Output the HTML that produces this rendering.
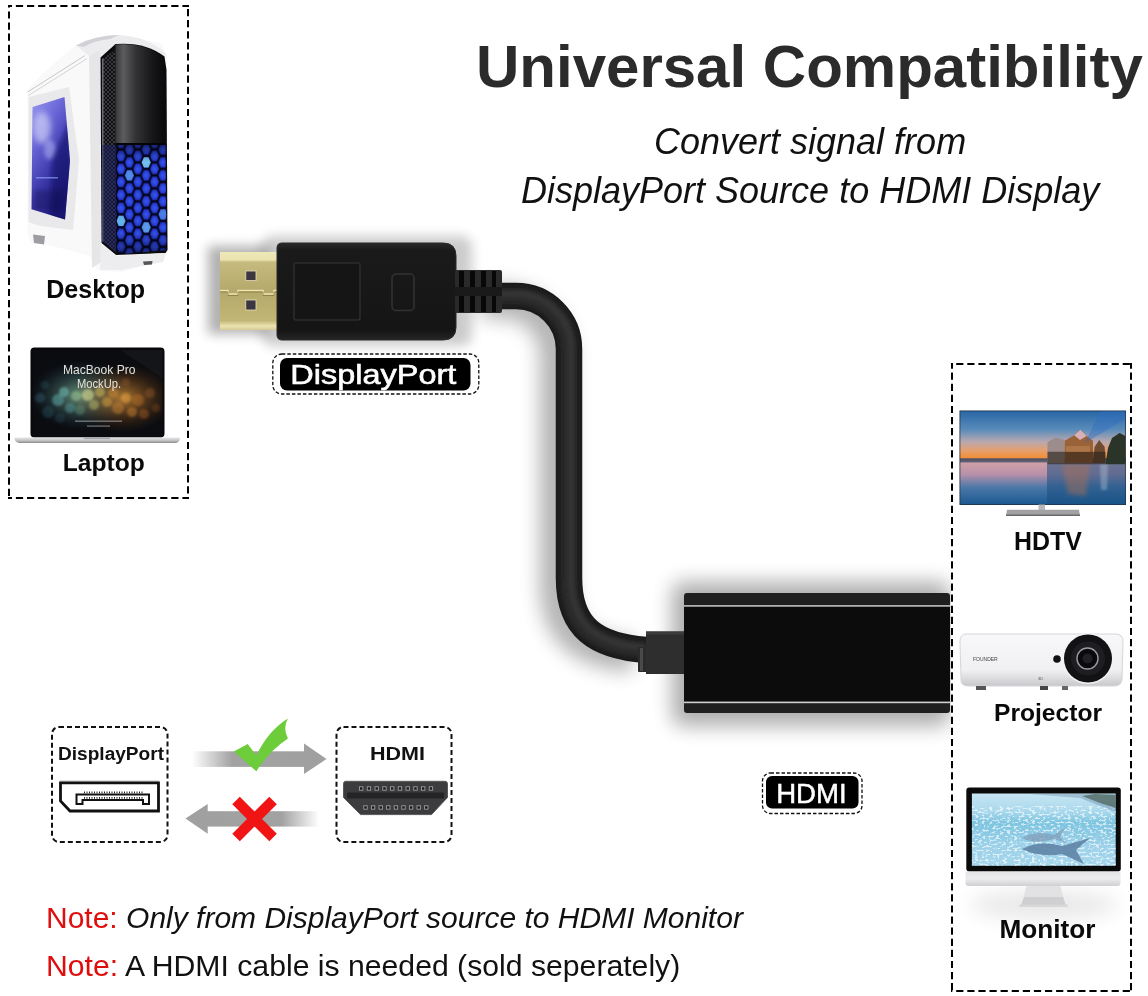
<!DOCTYPE html>
<html><head><meta charset="utf-8">
<style>
html,body{margin:0;padding:0;background:#fff;width:1148px;height:996px;overflow:hidden}
svg{display:block;position:absolute;left:0;top:0;will-change:transform}
text{font-family:"Liberation Sans",sans-serif}
</style></head>
<body>
<svg width="1148" height="996" viewBox="0 0 1148 996">
<defs>
  <filter id="blur6" x="-50%" y="-50%" width="200%" height="200%"><feGaussianBlur stdDeviation="6"/></filter>
  <filter id="blur10" x="-50%" y="-50%" width="200%" height="200%"><feGaussianBlur stdDeviation="10"/></filter>
  <filter id="blur12" x="-50%" y="-50%" width="200%" height="200%"><feGaussianBlur stdDeviation="12"/></filter>
  <filter id="blur3" x="-50%" y="-50%" width="200%" height="200%"><feGaussianBlur stdDeviation="3"/></filter>
  <filter id="blur2" x="-50%" y="-50%" width="200%" height="200%"><feGaussianBlur stdDeviation="2"/></filter>
  <filter id="blur1" x="-50%" y="-50%" width="200%" height="200%"><feGaussianBlur stdDeviation="1"/></filter>
  <linearGradient id="gold" x1="0" y1="0" x2="0" y2="1">
    <stop offset="0" stop-color="#efe8b8"/>
    <stop offset="0.1" stop-color="#ebe3ae"/>
    <stop offset="0.13" stop-color="#c6bb7e"/>
    <stop offset="0.5" stop-color="#b4a96a"/>
    <stop offset="0.88" stop-color="#c2b676"/>
    <stop offset="0.95" stop-color="#ece4b2"/>
    <stop offset="1" stop-color="#d4ca92"/>
  </linearGradient>
  <linearGradient id="dpbody" x1="0" y1="0" x2="0" y2="1">
    <stop offset="0" stop-color="#2a2a2a"/>
    <stop offset="0.08" stop-color="#1a1a1a"/>
    <stop offset="0.9" stop-color="#151515"/>
    <stop offset="1" stop-color="#262626"/>
  </linearGradient>
  <linearGradient id="arrR" x1="192" y1="0" x2="326" y2="0" gradientUnits="userSpaceOnUse">
    <stop offset="0" stop-color="#a2a2a2" stop-opacity="0"/>
    <stop offset="0.3" stop-color="#a2a2a2" stop-opacity="1"/>
    <stop offset="1" stop-color="#a0a0a0"/>
  </linearGradient>
  <linearGradient id="arrL" x1="185" y1="0" x2="319" y2="0" gradientUnits="userSpaceOnUse">
    <stop offset="0" stop-color="#a0a0a0"/>
    <stop offset="0.72" stop-color="#a2a2a2" stop-opacity="1"/>
    <stop offset="1" stop-color="#a2a2a2" stop-opacity="0"/>
  </linearGradient>
  <linearGradient id="caseWhite" x1="0" y1="0" x2="1" y2="0">
    <stop offset="0" stop-color="#e6e6e8"/>
    <stop offset="0.5" stop-color="#fbfbfb"/>
    <stop offset="1" stop-color="#e2e2e4"/>
  </linearGradient>
  <linearGradient id="gloss" x1="116" y1="0" x2="165" y2="0" gradientUnits="userSpaceOnUse">
    <stop offset="0" stop-color="#3a3a3c"/>
    <stop offset="0.15" stop-color="#5c5c5e"/>
    <stop offset="0.4" stop-color="#333335"/>
    <stop offset="0.75" stop-color="#161618"/>
    <stop offset="1" stop-color="#0a0a0b"/>
  </linearGradient>
  <pattern id="meshP" x="0" y="0" width="4" height="4" patternUnits="userSpaceOnUse">
    <rect width="4" height="4" fill="#101012"/>
    <path d="M0 0 L4 4 M4 0 L0 4" stroke="#4a4a50" stroke-width="0.7"/>
  </pattern>
  <linearGradient id="win" x1="0" y1="0" x2="0.5" y2="1">
    <stop offset="0" stop-color="#9a9cf0"/>
    <stop offset="0.35" stop-color="#6a66d8"/>
    <stop offset="0.7" stop-color="#3a36a8"/>
    <stop offset="1" stop-color="#242080"/>
  </linearGradient>
  <clipPath id="winclip"><path d="M32.5 107 L64.5 97 L70 160.7 L65 219.6 L31.5 209.3 Z"/></clipPath>
  <pattern id="hex" x="116.8" y="136.4" width="16.8" height="13" patternUnits="userSpaceOnUse">
    <rect width="16.8" height="13" fill="#03041a"/>
    <polygon points="-0.30,6.50 1.95,1.30 6.45,1.30 8.70,6.50 6.45,11.70 1.95,11.70" fill="url(#hexcell)"/>
    <polygon points="8.10,0.00 10.35,-5.20 14.85,-5.20 17.10,0.00 14.85,5.20 10.35,5.20" fill="url(#hexcell)"/>
    <polygon points="8.10,13.00 10.35,7.80 14.85,7.80 17.10,13.00 14.85,18.20 10.35,18.20" fill="url(#hexcell)"/>
  </pattern>
  <radialGradient id="hexcell" cx="0.5" cy="0.5" r="0.6">
    <stop offset="0" stop-color="#3a5cff"/>
    <stop offset="1" stop-color="#2030c8"/>
  </radialGradient>
  <linearGradient id="hexglow" x1="0" y1="0" x2="0" y2="1">
    <stop offset="0" stop-color="#000" stop-opacity="0.45"/>
    <stop offset="0.15" stop-color="#000" stop-opacity="0.05"/>
    <stop offset="0.8" stop-color="#000" stop-opacity="0.05"/>
    <stop offset="1" stop-color="#000" stop-opacity="0.45"/>
  </linearGradient>
  <linearGradient id="mesh" x1="0" y1="0" x2="1" y2="0">
    <stop offset="0" stop-color="#1c1c22"/>
    <stop offset="1" stop-color="#0c0c10"/>
  </linearGradient>
  <radialGradient id="bokehG" cx="0.38" cy="0.52" r="0.4">
    <stop offset="0" stop-color="#8ac0a0" stop-opacity="0.8"/>
    <stop offset="1" stop-color="#2a5060" stop-opacity="0"/>
  </radialGradient>
  <radialGradient id="bokehO" cx="0.7" cy="0.55" r="0.4">
    <stop offset="0" stop-color="#d89038" stop-opacity="0.8"/>
    <stop offset="1" stop-color="#603010" stop-opacity="0"/>
  </radialGradient>
  <linearGradient id="lapBase" x1="0" y1="0" x2="0" y2="1">
    <stop offset="0" stop-color="#e6e6e8"/>
    <stop offset="0.5" stop-color="#c8c8ca"/>
    <stop offset="1" stop-color="#8a8a8c"/>
  </linearGradient>
  <linearGradient id="tvsky" x1="0" y1="411" x2="0" y2="504" gradientUnits="userSpaceOnUse">
    <stop offset="0" stop-color="#2866a6"/>
    <stop offset="0.2" stop-color="#5a8cba"/>
    <stop offset="0.33" stop-color="#b8a8b0"/>
    <stop offset="0.42" stop-color="#e4a070"/>
    <stop offset="0.5" stop-color="#f0903a"/>
    <stop offset="0.515" stop-color="#505060"/>
    <stop offset="0.545" stop-color="#606078"/>
    <stop offset="0.56" stop-color="#d0a0a8"/>
    <stop offset="0.68" stop-color="#b890a8"/>
    <stop offset="0.82" stop-color="#4c78a8"/>
    <stop offset="1" stop-color="#1c5a92"/>
  </linearGradient>
  <linearGradient id="water" x1="0" y1="0" x2="0" y2="1">
    <stop offset="0" stop-color="#c8e6f2"/>
    <stop offset="0.25" stop-color="#a8d8ec"/>
    <stop offset="0.4" stop-color="#7cc4e0"/>
    <stop offset="0.7" stop-color="#9ad0e8"/>
    <stop offset="1" stop-color="#a6d6ec"/>
  </linearGradient>
  <linearGradient id="silver" x1="0" y1="0" x2="0" y2="1">
    <stop offset="0" stop-color="#e4e4e6"/>
    <stop offset="0.5" stop-color="#ececee"/>
    <stop offset="1" stop-color="#cfcfd2"/>
  </linearGradient>
  <linearGradient id="projBody" x1="0" y1="0" x2="0" y2="1">
    <stop offset="0" stop-color="#f8f8fa"/>
    <stop offset="0.7" stop-color="#f0f0f2"/>
    <stop offset="1" stop-color="#c8c8cc"/>
  </linearGradient>
  <linearGradient id="cableG" x1="0" y1="0" x2="1" y2="0">
    <stop offset="0" stop-color="#1c1c1c"/>
    <stop offset="0.5" stop-color="#353535"/>
    <stop offset="1" stop-color="#1a1a1a"/>
  </linearGradient>
  <filter id="caust" x="0" y="0" width="100%" height="100%">
    <feTurbulence type="fractalNoise" baseFrequency="0.28 0.5" numOctaves="2" seed="7" result="n"/>
    <feColorMatrix in="n" type="matrix" values="0 0 0 0 1  0 0 0 0 1  0 0 0 0 1  0 0 0 7 -3.6" result="m"/>
    <feComposite in="m" in2="SourceGraphic" operator="in"/>
  </filter>
  <clipPath id="shclip"><rect x="0" y="0" width="951" height="996"/></clipPath>
  <clipPath id="hexclip"><path d="M116.5 145 L165.5 145 L166.5 250 L120 254 L116.5 251 Z"/></clipPath>
</defs>
<rect width="1148" height="996" fill="#fff"/>
<!-- ============ LEFT BOX ============ -->
<g id="lbox"><line x1="8" y1="6" x2="189" y2="6" stroke="#000" stroke-width="2" stroke-dasharray="7.2 3.9" stroke-dashoffset="3.2"/><line x1="9" y1="5" x2="9" y2="499" stroke="#000" stroke-width="2" stroke-dasharray="7.2 3.9" stroke-dashoffset="4.7"/><line x1="188" y1="5" x2="188" y2="499" stroke="#000" stroke-width="2" stroke-dasharray="7.2 3.9" stroke-dashoffset="7.1"/><line x1="8" y1="498" x2="189" y2="498" stroke="#000" stroke-width="2" stroke-dasharray="7.2 3.9" stroke-dashoffset="3.2"/></g>

<!-- desktop case -->
<g id="case">
  <!-- whole white silhouette -->
  <path d="M27.5 90 Q45 70 76 45 Q110 33 161 43 L167 55 L168 252 L155 262 L122 272 L98 271 L90 256 L45 244 L30 243 L27.5 232 Z" fill="#f9f9fa"/>
  <!-- top cap -->
  <path d="M76 45.5 Q95 35 119 35 Q150 37 166 54 L163.7 57.7 Q145 42 115.5 44.5 L100.5 57 L89 56 Z" fill="#ececee"/>
  <path d="M76 45.5 Q95 35 119 35 L110 39 Q92 41 84 47 Z" fill="#d2d2d6"/>
  <!-- side panel slanted lines -->
  <path d="M27.7 92 L85 55.5" stroke="#c8c8cc" stroke-width="1"/>
  <path d="M28.5 95.5 L87 58.5" stroke="#d4d4d8" stroke-width="1"/>
  <!-- front frame strip -->
  <path d="M89 56 L100 50 L101 262 L92 268 Z" fill="#e6e6e9"/>
  <!-- window frame -->
  <path d="M28.5 97 L69 87 L79 160 L73 230 L40 226 L28.5 222 Z" fill="#e9e9ec"/>
  <!-- window -->
  <path d="M32.5 107 L64.5 97 L70 160.7 L65 219.6 L31.5 209.3 Z" fill="url(#win)"/>
  <g clip-path="url(#winclip)">
    <ellipse cx="42" cy="128" rx="9" ry="16" fill="#e8ecff" opacity="0.55" filter="url(#blur3)"/>
    <ellipse cx="50" cy="150" rx="6" ry="10" fill="#c8d0ff" opacity="0.45" filter="url(#blur2)"/>
    <path d="M52 160 L70 120 L72 222 L50 222 Z" fill="#0a0a60" opacity="0.55" filter="url(#blur2)"/>
    <rect x="36" y="177" width="22" height="1.5" fill="#a0b0ff" opacity="0.6"/>
    <rect x="34" y="190" width="28" height="20" fill="#101040" opacity="0.3" filter="url(#blur2)"/>
  </g>
  <!-- left foot -->
  <path d="M33 234.5 L45 236 L44 244.5 L34 243 Z" fill="#9d9da3"/>
  <!-- front black -->
  <path d="M100.5 57.5 L115.5 44 Q145 41.5 164.5 56.5 L166.5 70 L167.5 250 L165.5 253 L116 255 L101.5 243 Z" fill="#0b0b0f"/>
  <!-- mesh strip -->
  <path d="M102 59 L115 50 L116 252 L102 241 Z" fill="url(#meshP)"/>
  <path d="M102 59 L103.5 58 L103.5 242 L102 241 Z" fill="#6a6a70"/>
  <path d="M102 145 L116 145 L116 252 L102 241 Z" fill="#1a2070" opacity="0.45"/>
  <!-- glossy upper -->
  <path d="M115.5 44.5 Q145 42 163.7 57.7 L164.5 143 L115.5 143 Z" fill="url(#gloss)"/>
  <path d="M115.5 143 L165 143 L165 145.5 L115.5 145.5 Z" fill="#050508"/>
  <!-- hex lower -->
  <path d="M116.5 145 L165.5 145 L166.5 250 L120 254 L116.5 251 Z" fill="url(#hex)"/>
  <g clip-path="url(#hexclip)"><polygon points="141.70,162.40 143.95,157.20 148.45,157.20 150.70,162.40 148.45,167.60 143.95,167.60" fill="#8ff0ff" opacity="0.75"/><polygon points="124.90,175.40 127.15,170.20 131.65,170.20 133.90,175.40 131.65,180.60 127.15,180.60" fill="#70c8ff" opacity="0.55"/><polygon points="116.50,220.90 118.75,215.70 123.25,215.70 125.50,220.90 123.25,226.10 118.75,226.10" fill="#80e8ff" opacity="0.7"/><polygon points="141.70,227.40 143.95,222.20 148.45,222.20 150.70,227.40 148.45,232.60 143.95,232.60" fill="#80d8ff" opacity="0.6"/><polygon points="158.50,214.40 160.75,209.20 165.25,209.20 167.50,214.40 165.25,219.60 160.75,219.60" fill="#6ab8ff" opacity="0.5"/></g>
  <path d="M116.5 145 L165.5 145 L166.5 250 L120 254 L116.5 251 Z" fill="url(#hexglow)"/>
  <!-- base -->
  <path d="M101 244 L117 256 L166 253 L163 262 L122 270 L100 270 Z" fill="#ededf0"/>
  <path d="M143 261.5 L152.5 261 L152 264.5 L144 265 Z" fill="#555"/>
</g>
<text id="t_desk" x="46.2" y="298" font-size="25.1" font-weight="bold" fill="#0a0a0a">Desktop</text>

<!-- laptop -->
<g id="laptop">
  <rect x="30.5" y="347.5" width="134" height="90" rx="4" fill="#08080a"/>
  <rect x="32.5" y="350" width="130" height="87" fill="#0a0c10"/>
  <rect x="32.5" y="350" width="130" height="87" fill="url(#bokehG)"/>
  <rect x="32.5" y="350" width="130" height="87" fill="url(#bokehO)"/>
  <g filter="url(#blur1)"><circle cx="40" cy="398" r="5" fill="#3a7080" opacity="0.35"/><circle cx="48" cy="412" r="6" fill="#2a5a6a" opacity="0.35"/><circle cx="58" cy="400" r="6" fill="#60b0b0" opacity="0.5"/><circle cx="64" cy="392" r="5" fill="#70c0b8" opacity="0.55"/><circle cx="70" cy="408" r="5" fill="#5aa0a0" opacity="0.45"/><circle cx="76" cy="396" r="5" fill="#90c090" opacity="0.55"/><circle cx="80" cy="410" r="5" fill="#6a9a80" opacity="0.4"/><circle cx="88" cy="395" r="6" fill="#d0d890" opacity="0.6"/><circle cx="94" cy="405" r="5" fill="#c0c870" opacity="0.45"/><circle cx="100" cy="392" r="5" fill="#d8c060" opacity="0.5"/><circle cx="107" cy="402" r="5" fill="#e0a840" opacity="0.45"/><circle cx="113" cy="393" r="5" fill="#d89030" opacity="0.45"/><circle cx="118" cy="408" r="6" fill="#c88030" opacity="0.45"/><circle cx="126" cy="398" r="5" fill="#e0a040" opacity="0.5"/><circle cx="132" cy="412" r="5" fill="#d08830" opacity="0.45"/><circle cx="138" cy="400" r="6" fill="#c07028" opacity="0.4"/><circle cx="144" cy="414" r="5" fill="#b06020" opacity="0.4"/><circle cx="150" cy="393" r="5" fill="#a86028" opacity="0.35"/><circle cx="156" cy="408" r="4" fill="#905020" opacity="0.35"/><circle cx="126" cy="382" r="4" fill="#a06030" opacity="0.3"/><circle cx="45" cy="385" r="4" fill="#305868" opacity="0.3"/><circle cx="60" cy="418" r="5" fill="#2a5060" opacity="0.3"/></g>
  <path d="M120 350 L162.5 350 L162.5 378 Z" fill="#ffffff" opacity="0.04"/>
  <text x="63" y="374.2" font-size="12" fill="#e4e2dc" textLength="72.5" lengthAdjust="spacingAndGlyphs">MacBook Pro</text>
  <text x="77" y="387.7" font-size="12" fill="#e4e2dc" textLength="44" lengthAdjust="spacingAndGlyphs">MockUp.</text>
  <rect x="75" y="420.5" width="47" height="1.3" fill="#bbb" opacity="0.6"/>
  <rect x="87" y="425.5" width="23" height="1.2" fill="#bbb" opacity="0.6"/>
  <path d="M14.5 437.5 L180 437.5 Q180 442 176 443 L19 443 Q14.5 442 14.5 437.5 Z" fill="url(#lapBase)"/>
  <rect x="84" y="437.5" width="26" height="1.6" fill="#a8a8aa"/>
</g>
<text id="t_lap" x="62.8" y="470.5" font-size="24.6" font-weight="bold" fill="#0a0a0a">Laptop</text>
<!-- ============ CABLE + CONNECTORS ============ -->
<g id="shadows" clip-path="url(#shclip)">
  <path d="M495 300 L516 300 A53 53 0 0 1 569 353 L569 582 C569 632 596 650 646 654" transform="translate(-13,2)" fill="none" stroke="#000" stroke-width="32" opacity="0.3" filter="url(#blur10)"/>
  <rect x="208" y="246" width="60" height="88" fill="#000" opacity="0.3" filter="url(#blur6)"/>
  <rect x="262" y="236" width="210" height="110" rx="10" fill="#000" opacity="0.2" filter="url(#blur6)"/>
  <rect x="672" y="582" width="278" height="144" rx="10" fill="#000" opacity="0.32" filter="url(#blur10)"/>
</g>
<!-- cable -->
<path d="M495 296 L516 296 A53 53 0 0 1 569 349 L569 578 C569 628 596 646 646 650" fill="none" stroke="#1b1b1b" stroke-width="26.5"/>
<path d="M495 296 L516 296 A53 53 0 0 1 569 349 L569 578 C569 628 596 646 646 650" fill="none" stroke="#2c2c2c" stroke-width="16" filter="url(#blur2)"/>
<path d="M495 294 L516 294 A55 55 0 0 1 571 349 L571 578 C571 626 597 644 646 648" fill="none" stroke="#3a3a3a" stroke-width="5" opacity="0.8" filter="url(#blur2)"/>
<!-- gold plug -->
<rect x="220" y="252" width="58" height="78" fill="url(#gold)"/>
<rect x="245.8" y="271" width="10.2" height="9.6" fill="#3b3640" stroke="#e8e0b8" stroke-width="0.8"/>
<rect x="245.8" y="300" width="10.2" height="10" fill="#3b3640" stroke="#e8e0b8" stroke-width="0.8"/>
<path d="M220 290.5 L228 290.5 L228 294 L238 294 L238 290.5 L263 290.5 L263 294 L274 294 L274 290.5 L278 290.5" fill="none" stroke="#eee4b0" stroke-width="1.4"/>
<path d="M220 292 L228 292 L228 295.5 L238 295.5 L238 292 L263 292 L263 295.5 L274 295.5 L274 292 L278 292" fill="none" stroke="#8a7a40" stroke-width="0.8"/>
<!-- black body -->
<path d="M282 243 L443 243 Q456 243 456 256 L456 327 Q456 340 443 340 L282 340 Q277 340 277 335 L277 248 Q277 243 282 243 Z" fill="url(#dpbody)" stroke="#2a2a2a" stroke-width="1"/>
<rect x="294" y="263" width="66" height="57" rx="2" fill="#151515" stroke="#2c2c2c" stroke-width="1.6"/>
<rect x="392" y="274" width="22" height="36.5" rx="4" fill="none" stroke="#333" stroke-width="1.5"/>
<!-- strain relief -->
<rect x="455" y="270" width="47" height="43" rx="2" fill="#2a2a2a"/>
<rect x="459" y="271" width="5" height="16" fill="#080808"/>
<rect x="470" y="271" width="5" height="16" fill="#080808"/>
<rect x="481" y="271" width="5" height="16" fill="#080808"/>
<rect x="492" y="271" width="4" height="16" fill="#080808"/>
<rect x="459" y="296" width="5" height="16" fill="#080808"/>
<rect x="470" y="296" width="5" height="16" fill="#080808"/>
<rect x="481" y="296" width="5" height="16" fill="#080808"/>
<rect x="492" y="296" width="4" height="16" fill="#080808"/>
<rect x="455" y="287" width="47" height="9" fill="#1a1a1a"/>
<!-- DisplayPort label -->
<rect x="272.8" y="354" width="206" height="40" rx="9" fill="#fff" stroke="#111" stroke-width="1.3" stroke-dasharray="3.5 2"/>
<rect x="280" y="358" width="190.5" height="32.5" rx="7" fill="#000"/>
<text x="290.3" y="384.3" font-size="28" font-weight="normal" fill="#fff" stroke="#fff" stroke-width="0.6" textLength="166" lengthAdjust="spacingAndGlyphs">DisplayPort</text>

<!-- HDMI adapter -->
<rect x="638" y="647" width="9" height="25" rx="1" fill="#2a2a2a"/>
<rect x="640" y="648" width="3" height="23" fill="#4a4a4a"/>
<rect x="646" y="631.5" width="38" height="42.5" fill="#2e2e2e"/>
<rect x="646" y="631.5" width="38" height="3" fill="#3c3c3c"/>
<rect x="684" y="593" width="266" height="120" rx="3" fill="#1f1f1f"/>
<rect x="684" y="605.2" width="266" height="1.6" fill="#d0d0d0"/>
<rect x="684" y="606.8" width="266" height="94.8" fill="#0c0c0c"/>
<rect x="684" y="701.6" width="266" height="1.6" fill="#d0d0d0"/>

<!-- HDMI label -->
<rect x="762.5" y="773" width="99.5" height="40.5" rx="8" fill="#fff" stroke="#111" stroke-width="1.3" stroke-dasharray="3.5 2"/>
<rect x="766" y="776" width="92.5" height="32.5" rx="6" fill="#000"/>
<text x="776.2" y="802.7" font-size="27" font-weight="normal" fill="#fff" stroke="#fff" stroke-width="0.5" textLength="70.5" lengthAdjust="spacingAndGlyphs">HDMI</text>
<!-- ============ COMPAT DIAGRAM ============ -->
<rect x="52" y="727" width="115.5" height="115" rx="7" fill="none" stroke="#111" stroke-width="2" stroke-dasharray="5 3"/>
<text x="58" y="759.8" font-size="18.9" font-weight="bold" fill="#111" textLength="106" lengthAdjust="spacingAndGlyphs">DisplayPort</text>
<path d="M60 781 L159 781" stroke="#bbb" stroke-width="1"/>
<path d="M60.5 782.8 L158.5 782.8 L158.5 811 L70 811 L60.5 801 Z" fill="none" stroke="#111" stroke-width="2.8"/>
<path d="M76.5 804 L76.5 794.5 L149 794.5 L149 804 L143 804 L143 800 L82.5 800 L82.5 804 Z" fill="none" stroke="#111" stroke-width="2"/>
<path d="M84 792.3 L143 792.3 M84 797.8 L143 797.8" stroke="#222" stroke-width="1.8" stroke-dasharray="1 1.5"/>

<rect x="336.5" y="727" width="115" height="115" rx="7" fill="none" stroke="#111" stroke-width="2" stroke-dasharray="5 3"/>
<text x="370" y="759.8" font-size="18.5" font-weight="bold" fill="#111" textLength="55" lengthAdjust="spacingAndGlyphs">HDMI</text>
<path d="M345.5 781.3 L445 781.3 Q447.5 781.3 447.5 784 L447.5 797.5 L431.5 814.6 L360.5 814.6 L343.5 797.5 L343.5 784 Q343.5 781.3 345.5 781.3 Z" fill="#3c3c3e" stroke="#58585a" stroke-width="1"/>
<rect x="347" y="792.5" width="97" height="6" fill="#242426"/>
<rect x="359.50" y="786.8" width="3.4" height="3.4" fill="#1a1a1a" stroke="#a0a0a2" stroke-width="0.9"/><rect x="367.25" y="786.8" width="3.4" height="3.4" fill="#1a1a1a" stroke="#a0a0a2" stroke-width="0.9"/><rect x="375.00" y="786.8" width="3.4" height="3.4" fill="#1a1a1a" stroke="#a0a0a2" stroke-width="0.9"/><rect x="382.75" y="786.8" width="3.4" height="3.4" fill="#1a1a1a" stroke="#a0a0a2" stroke-width="0.9"/><rect x="390.50" y="786.8" width="3.4" height="3.4" fill="#1a1a1a" stroke="#a0a0a2" stroke-width="0.9"/><rect x="398.25" y="786.8" width="3.4" height="3.4" fill="#1a1a1a" stroke="#a0a0a2" stroke-width="0.9"/><rect x="406.00" y="786.8" width="3.4" height="3.4" fill="#1a1a1a" stroke="#a0a0a2" stroke-width="0.9"/><rect x="413.75" y="786.8" width="3.4" height="3.4" fill="#1a1a1a" stroke="#a0a0a2" stroke-width="0.9"/><rect x="421.50" y="786.8" width="3.4" height="3.4" fill="#1a1a1a" stroke="#a0a0a2" stroke-width="0.9"/><rect x="429.25" y="786.8" width="3.4" height="3.4" fill="#1a1a1a" stroke="#a0a0a2" stroke-width="0.9"/><rect x="363.80" y="805.8" width="3.4" height="3.4" fill="#1a1a1a" stroke="#a0a0a2" stroke-width="0.9"/><rect x="371.40" y="805.8" width="3.4" height="3.4" fill="#1a1a1a" stroke="#a0a0a2" stroke-width="0.9"/><rect x="379.00" y="805.8" width="3.4" height="3.4" fill="#1a1a1a" stroke="#a0a0a2" stroke-width="0.9"/><rect x="386.60" y="805.8" width="3.4" height="3.4" fill="#1a1a1a" stroke="#a0a0a2" stroke-width="0.9"/><rect x="394.20" y="805.8" width="3.4" height="3.4" fill="#1a1a1a" stroke="#a0a0a2" stroke-width="0.9"/><rect x="401.80" y="805.8" width="3.4" height="3.4" fill="#1a1a1a" stroke="#a0a0a2" stroke-width="0.9"/><rect x="409.40" y="805.8" width="3.4" height="3.4" fill="#1a1a1a" stroke="#a0a0a2" stroke-width="0.9"/><rect x="417.00" y="805.8" width="3.4" height="3.4" fill="#1a1a1a" stroke="#a0a0a2" stroke-width="0.9"/><rect x="424.60" y="805.8" width="3.4" height="3.4" fill="#1a1a1a" stroke="#a0a0a2" stroke-width="0.9"/>
<!-- arrows -->
<rect x="192" y="751.3" width="113" height="15.6" fill="url(#arrR)"/>
<polygon points="304,743.6 326.5,759 304,774.1" fill="#a0a0a0"/>
<rect x="207" y="811.2" width="111.5" height="15.4" fill="url(#arrL)"/>
<polygon points="207.7,804 185.5,818.5 207.7,833.8" fill="#a0a0a0"/>
<!-- check -->
<path d="M233.8 751.6 L247.7 744 L256.4 755.6 Q268 731 287.9 718.6 Q282.5 728 287.9 738.5 Q268 752 256.4 771.3 Z" fill="#6ccc3a"/>
<!-- X -->
<path d="M232.3 804.3 L239.8 796.8 L254.5 811.5 L269.3 796.8 L276.8 804.3 L262 819 L276.8 833.7 L269.3 841.2 L254.5 826.5 L239.8 841.2 L232.3 833.7 L247 819 Z" fill="#f01414"/>

<!-- notes -->
<text id="t_n1" x="46" y="928" font-size="30" fill="#111"><tspan fill="#e00d0d">Note: </tspan><tspan font-style="italic">Only from DisplayPort source to HDMI Monitor</tspan></text>
<text id="t_n2" x="46" y="976" font-size="30.2" fill="#111"><tspan fill="#e00d0d">Note: </tspan>A HDMI cable is needed (sold seperately)</text>

<!-- title -->
<text id="t_title" x="476" y="87" font-size="60" font-weight="bold" fill="#2b2b2b">Universal Compatibility</text>
<text id="t_sub1" x="654" y="154" font-size="36" font-style="italic" fill="#111">Convert signal from</text>
<text id="t_sub2" x="521" y="203" font-size="36" font-style="italic" fill="#111">DisplayPort Source to HDMI Display</text>
<!-- ============ RIGHT BOX ============ -->
<g id="rbox"><line x1="951" y1="364" x2="1132" y2="364" stroke="#000" stroke-width="2" stroke-dasharray="7.2 3.9" stroke-dashoffset="5.9"/><line x1="952" y1="363" x2="952" y2="992" stroke="#000" stroke-width="2" stroke-dasharray="7.2 3.9" stroke-dashoffset="1.5"/><line x1="1131" y1="363" x2="1131" y2="992" stroke="#000" stroke-width="2" stroke-dasharray="7.2 3.9" stroke-dashoffset="1.5"/><line x1="951" y1="991" x2="1132" y2="991" stroke="#000" stroke-width="2" stroke-dasharray="7.2 3.9" stroke-dashoffset="5.9"/></g>
<!-- TV -->
<g id="tv">
  <rect x="959.5" y="410.5" width="166.5" height="94.5" fill="#1c2a3a"/>
  <rect x="960.3" y="411.3" width="165" height="93" fill="url(#tvsky)"/>
  <!-- right water darker -->
  <path d="M1047 462 L1125.3 462 L1125.3 504.3 L1047 504.3 Z" fill="#1a4f80" opacity="0.55"/>
  <path d="M1062 464 L1090 464 L1086 496 L1068 494 Z" fill="#b07050" opacity="0.45" filter="url(#blur2)"/>
  <path d="M1100 464 L1108 464 L1107 490 L1101 490 Z" fill="#c0d0e0" opacity="0.35" filter="url(#blur1)"/>
  <!-- castle -->
  <path d="M1047.5 463 L1047.5 442.3 L1055.3 437.6 L1064.8 440 L1064.8 463 Z" fill="#9c8c8c"/>
  <path d="M1064.8 463 L1064.8 440.8 L1074.2 435.3 L1080.4 429.8 L1086.7 436.1 L1093 440.8 L1093 463 Z" fill="#9a6238"/>
  <path d="M1074.2 435.3 L1080.4 429.8 L1086.7 436.1 L1080 440 Z" fill="#d8b0b8"/>
  <path d="M1093 463 L1094.5 447 L1099.2 440 L1104.7 447 L1105.5 463 Z" fill="#6e4c32"/>
  <path d="M1047.5 451.7 L1105.5 451.7 L1105.5 464.3 L1047.5 464.3 Z" fill="#2a2018" opacity="0.6"/>
  <path d="M1066 446 L1090 446 L1090 452 L1066 452 Z" fill="#c08858" opacity="0.5"/>
  <!-- trees -->
  <path d="M1105.5 464.3 L1108 448 L1112 438 L1119.6 432.9 L1125.3 436 L1125.3 464.3 Z" fill="#2a3428"/>
  <!-- glare -->
    <path d="M1085 443 L1125.3 419 L1125.3 411.3 L1100 411.3 Z" fill="#2a6cc0" opacity="0.4"/>
  <rect x="1038.5" y="504.5" width="6.5" height="6" fill="#b8b8ba"/>
  <path d="M1007 509.8 L1079 509.8 L1080 516 L1006 516 Z" fill="#a2a2a4"/>
  <rect x="1006" y="514.5" width="74" height="1.5" fill="#6a6a6c"/>
</g>
<text id="t_hdtv" x="1014" y="549.5" font-size="24.9" font-weight="bold" fill="#0a0a0a">HDTV</text>

<!-- Projector -->
<g id="proj">
  <path d="M966 634 L1116 634 Q1123 634 1123 642 L1122 680 Q1121 686 1114 686 L968 686 Q961 686 961 680 L960 642 Q960 634 966 634 Z" fill="url(#projBody)" stroke="#d6d6da" stroke-width="1"/>
  <rect x="976" y="686" width="10" height="4" fill="#555"/>
  <rect x="1040" y="686" width="8" height="4" fill="#444"/>
  <rect x="1062" y="686" width="6" height="4" fill="#666"/>
  <circle cx="1088" cy="658.5" r="25.5" fill="#f4f4f6"/>
  <circle cx="1088" cy="658.5" r="24" fill="#121214"/>
  <circle cx="1088" cy="658.5" r="17" fill="#1e1e22"/>
  <circle cx="1087.5" cy="658.5" r="10.5" fill="#0a0a0c" stroke="#9a9aa0" stroke-width="1.4"/>
  <circle cx="1087.5" cy="658.5" r="5" fill="#202026"/>
  <circle cx="1057" cy="659" r="3.8" fill="#111"/>
  <text x="973" y="661" font-size="5" fill="#444">FOUNDER</text>
  <text x="1038" y="680" font-size="4" fill="#555">3D</text>
</g>
<text id="t_proj" x="994" y="720.5" font-size="24.6" font-weight="bold" fill="#0a0a0a">Projector</text>

<!-- Monitor -->
<g id="mon">
  <ellipse cx="1044" cy="905" rx="75" ry="14" fill="#000" opacity="0.09" filter="url(#blur10)"/>
  <rect x="966.3" y="787.5" width="154.5" height="84" rx="3" fill="#0a0a0a"/>
  <rect x="971.9" y="793.5" width="143.8" height="72.3" fill="url(#water)"/>
  <rect x="971.9" y="806" width="143.8" height="59.8" fill="#fff" filter="url(#caust)" opacity="0.65"/>
  <path d="M1030 794 L1115.7 794 L1115.7 812 Q1100 806 1080 798 Z" fill="#5a7aa0" opacity="0.35"/>
  <path d="M1082 796 L1095 794 L1115.7 795 L1115.7 808 L1100 803 Z" fill="#3a5040" opacity="0.6"/>
  <path d="M1022 849 Q1040 840 1062 846 L1090 838 L1076 850 L1084 864 L1062 854 Q1040 858 1022 849 Z" fill="#5f84a6" opacity="0.9"/>
  <path d="M1022 838 Q1036 830 1054 835 L1066 827 L1060 837 L1066 843 L1054 839 Q1036 845 1022 838 Z" fill="#7f9fbb" opacity="0.8"/>
  <path d="M965.5 871.4 L1120.5 871.4 L1120.5 883 Q1120.5 886 1117 886 L969 886 Q965.5 886 965.5 883 Z" fill="url(#silver)"/>
  <path d="M1026.5 886 L1060.3 886 L1066 906 L1021 906 Z" fill="#e2e2e4"/>
  <path d="M1024 897 L1063 897 L1066 906 L1021 906 Z" fill="#cfcfd2"/>
  <rect x="1019" y="904.5" width="49" height="2.5" rx="1" fill="#d8d8da"/>
</g>
<text id="t_mon" x="999.5" y="938" font-size="26.2" font-weight="bold" fill="#0a0a0a">Monitor</text>
</svg>
</body></html>
